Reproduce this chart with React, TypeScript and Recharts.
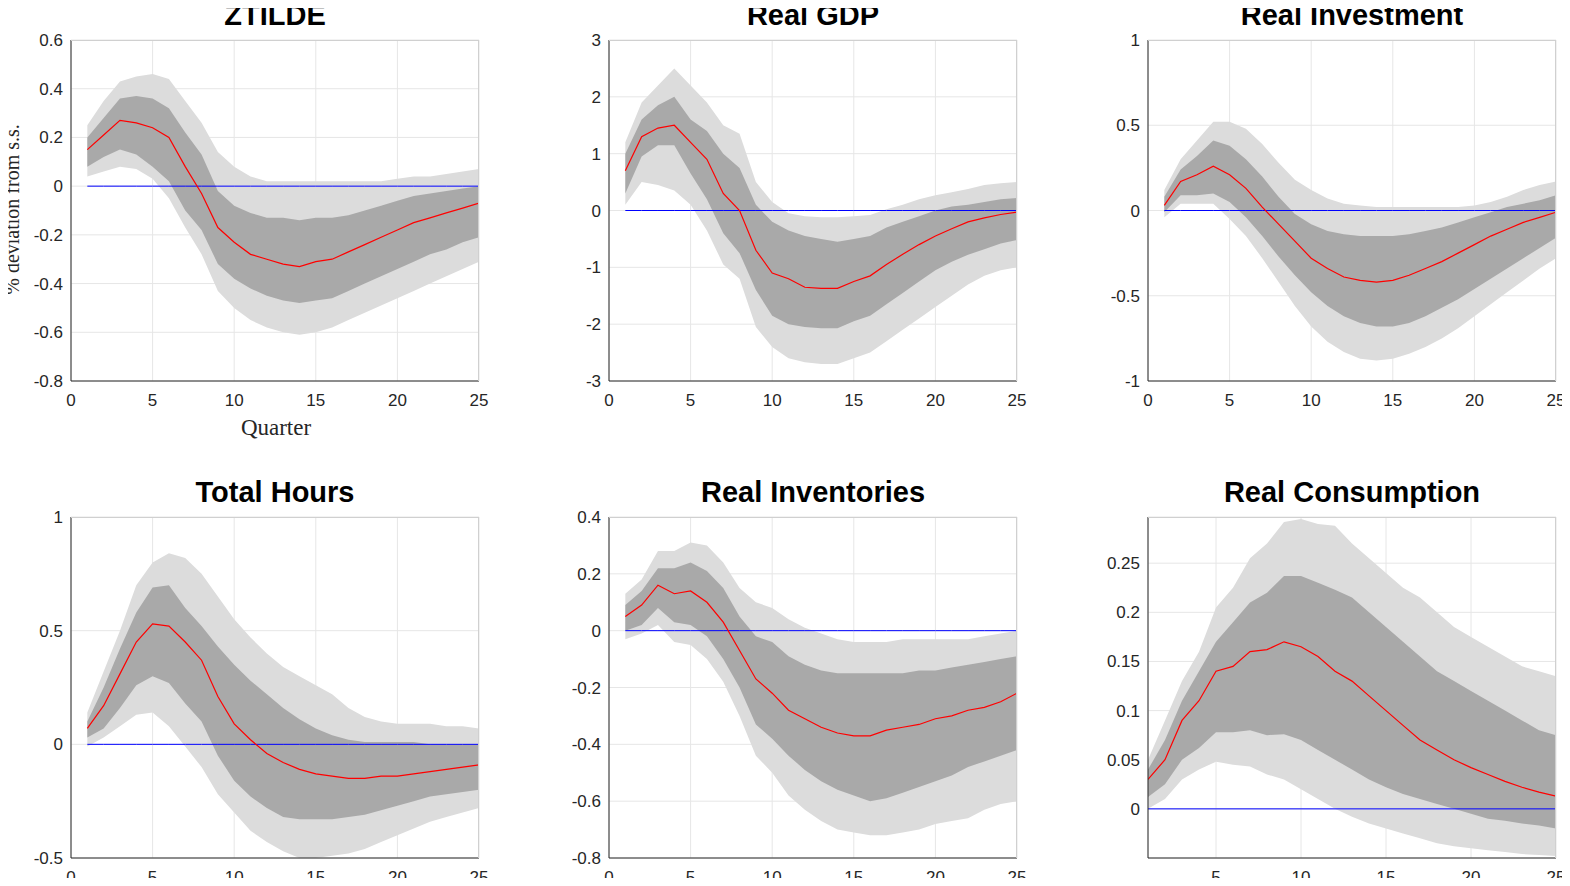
import { ComposedChart, Area, Line, XAxis, YAxis, CartesianGrid } from 'recharts';

const quarters = Array.from({ length: 25 }, (_, i) => i + 1);

const titles = ['ZTILDE', 'Real GDP', 'Real Investment', 'Total Hours', 'Real Inventories', 'Real Consumption'];

// median, inner band (lo/hi), outer band (lo/hi)
const ztMed = [0.15,0.21,0.27,0.26,0.24,0.2,0.08,-0.03,-0.17,-0.23,-0.28,-0.3,-0.32,-0.33,-0.31,-0.3,-0.27,-0.24,-0.21,-0.18,-0.15,-0.13,-0.11,-0.09,-0.07];
const ztInHi = [0.2,0.28,0.36,0.37,0.36,0.32,0.22,0.13,-0.02,-0.08,-0.11,-0.13,-0.13,-0.14,-0.13,-0.13,-0.12,-0.1,-0.08,-0.06,-0.04,-0.03,-0.02,-0.01,0.0];
const ztInLo = [0.08,0.12,0.15,0.13,0.08,0.02,-0.1,-0.18,-0.32,-0.38,-0.42,-0.45,-0.47,-0.48,-0.47,-0.46,-0.43,-0.4,-0.37,-0.34,-0.31,-0.28,-0.26,-0.23,-0.21];
const ztOutHi = [0.25,0.35,0.43,0.45,0.46,0.44,0.35,0.26,0.14,0.08,0.04,0.02,0.02,0.02,0.02,0.02,0.02,0.02,0.02,0.03,0.04,0.04,0.05,0.06,0.07];
const ztOutLo = [0.04,0.06,0.08,0.07,0.03,-0.05,-0.17,-0.28,-0.43,-0.5,-0.55,-0.58,-0.6,-0.61,-0.6,-0.58,-0.55,-0.52,-0.49,-0.46,-0.43,-0.4,-0.37,-0.34,-0.31];

const gdpMed = [0.7,1.3,1.45,1.5,1.2,0.9,0.3,0,-0.7,-1.1,-1.2,-1.35,-1.37,-1.37,-1.25,-1.15,-0.95,-0.77,-0.6,-0.45,-0.32,-0.2,-0.13,-0.07,-0.03];
const gdpInHi = [1.0,1.6,1.85,2.0,1.6,1.4,1.0,0.75,0.1,-0.2,-0.35,-0.45,-0.5,-0.55,-0.5,-0.45,-0.3,-0.2,-0.1,0.0,0.07,0.1,0.15,0.2,0.22];
const gdpInLo = [0.3,0.95,1.15,1.15,0.65,0.2,-0.4,-0.75,-1.4,-1.85,-2.0,-2.05,-2.07,-2.07,-1.95,-1.85,-1.65,-1.45,-1.25,-1.05,-0.9,-0.78,-0.68,-0.58,-0.52];
const gdpOutHi = [1.2,1.9,2.2,2.5,2.2,1.9,1.5,1.35,0.5,0.15,-0.05,-0.1,-0.12,-0.12,-0.1,-0.08,0.02,0.1,0.2,0.27,0.32,0.38,0.45,0.48,0.5];
const gdpOutLo = [0.1,0.5,0.45,0.35,0.1,-0.35,-0.95,-1.2,-2.05,-2.4,-2.6,-2.67,-2.7,-2.7,-2.6,-2.5,-2.3,-2.1,-1.9,-1.7,-1.5,-1.3,-1.15,-1.05,-1.0];

const invMed = [0.03,0.17,0.21,0.26,0.21,0.13,0.02,-0.08,-0.18,-0.28,-0.34,-0.39,-0.41,-0.42,-0.41,-0.38,-0.34,-0.3,-0.25,-0.2,-0.15,-0.11,-0.07,-0.04,-0.01];
const invInHi = [0.08,0.24,0.32,0.41,0.38,0.3,0.2,0.08,-0.02,-0.08,-0.12,-0.14,-0.15,-0.15,-0.15,-0.14,-0.12,-0.1,-0.07,-0.04,-0.01,0.02,0.04,0.06,0.09];
const invInLo = [-0.01,0.09,0.09,0.1,0.05,-0.04,-0.15,-0.27,-0.38,-0.48,-0.56,-0.62,-0.66,-0.68,-0.68,-0.66,-0.62,-0.57,-0.52,-0.46,-0.4,-0.34,-0.28,-0.22,-0.16];
const invOutHi = [0.12,0.3,0.41,0.52,0.52,0.48,0.39,0.28,0.18,0.12,0.07,0.04,0.03,0.02,0.02,0.02,0.02,0.02,0.02,0.03,0.05,0.08,0.12,0.15,0.17];
const invOutLo = [-0.04,0.04,0.04,0.04,-0.05,-0.15,-0.28,-0.42,-0.56,-0.68,-0.77,-0.83,-0.87,-0.88,-0.87,-0.84,-0.8,-0.75,-0.69,-0.62,-0.55,-0.48,-0.41,-0.34,-0.28];

const hrsMed = [0.07,0.17,0.31,0.45,0.53,0.52,0.45,0.37,0.21,0.09,0.02,-0.04,-0.08,-0.11,-0.13,-0.14,-0.15,-0.15,-0.14,-0.14,-0.13,-0.12,-0.11,-0.1,-0.09];
const hrsInHi = [0.1,0.25,0.42,0.58,0.69,0.7,0.6,0.52,0.43,0.35,0.28,0.22,0.16,0.11,0.07,0.04,0.02,0.01,0.01,0.01,0.01,0.0,0.0,0.0,0.0];
const hrsInLo = [0.03,0.07,0.16,0.26,0.3,0.27,0.18,0.1,-0.05,-0.16,-0.23,-0.28,-0.32,-0.33,-0.33,-0.33,-0.32,-0.31,-0.29,-0.27,-0.25,-0.23,-0.22,-0.21,-0.2];
const hrsOutHi = [0.14,0.32,0.5,0.7,0.8,0.84,0.82,0.75,0.65,0.55,0.47,0.4,0.34,0.3,0.26,0.22,0.16,0.12,0.1,0.09,0.09,0.09,0.08,0.08,0.07];
const hrsOutLo = [-0.01,0.03,0.08,0.13,0.14,0.08,-0.01,-0.1,-0.22,-0.3,-0.38,-0.43,-0.47,-0.5,-0.5,-0.49,-0.48,-0.46,-0.43,-0.4,-0.37,-0.34,-0.32,-0.3,-0.28];

const stkMed = [0.05,0.09,0.16,0.13,0.14,0.1,0.03,-0.07,-0.17,-0.22,-0.28,-0.31,-0.34,-0.36,-0.37,-0.37,-0.35,-0.34,-0.33,-0.31,-0.3,-0.28,-0.27,-0.25,-0.22];
const stkInHi = [0.09,0.14,0.22,0.22,0.24,0.21,0.15,0.05,-0.02,-0.04,-0.09,-0.12,-0.14,-0.15,-0.15,-0.15,-0.15,-0.15,-0.14,-0.14,-0.13,-0.12,-0.11,-0.1,-0.09];
const stkInLo = [0.0,0.02,0.08,0.03,0.02,-0.02,-0.1,-0.2,-0.33,-0.38,-0.44,-0.49,-0.53,-0.56,-0.58,-0.6,-0.59,-0.57,-0.55,-0.53,-0.51,-0.48,-0.46,-0.44,-0.42];
const stkOutHi = [0.13,0.18,0.28,0.28,0.31,0.3,0.24,0.15,0.1,0.08,0.04,0.01,-0.01,-0.03,-0.04,-0.04,-0.04,-0.03,-0.03,-0.03,-0.03,-0.03,-0.02,-0.01,0.0];
const stkOutLo = [-0.03,-0.01,0.02,-0.04,-0.05,-0.1,-0.18,-0.3,-0.44,-0.5,-0.58,-0.63,-0.67,-0.7,-0.71,-0.72,-0.72,-0.71,-0.7,-0.68,-0.67,-0.66,-0.63,-0.61,-0.6];

const conMed = [0.03,0.05,0.09,0.11,0.14,0.145,0.16,0.162,0.17,0.165,0.155,0.14,0.13,0.115,0.1,0.085,0.07,0.06,0.05,0.042,0.035,0.028,0.022,0.017,0.013];
const conInHi = [0.04,0.07,0.11,0.14,0.17,0.19,0.21,0.22,0.237,0.237,0.23,0.223,0.215,0.2,0.185,0.17,0.155,0.14,0.13,0.12,0.11,0.1,0.09,0.08,0.075];
const conInLo = [0.012,0.025,0.05,0.062,0.078,0.078,0.08,0.075,0.076,0.07,0.06,0.05,0.04,0.03,0.022,0.015,0.01,0.005,0.0,-0.005,-0.01,-0.012,-0.015,-0.017,-0.02];
const conOutHi = [0.05,0.09,0.13,0.16,0.205,0.225,0.255,0.27,0.292,0.295,0.29,0.288,0.27,0.255,0.24,0.225,0.215,0.2,0.185,0.175,0.165,0.155,0.145,0.14,0.135];
const conOutLo = [0.0,0.01,0.03,0.04,0.048,0.045,0.043,0.035,0.03,0.02,0.01,0.0,-0.008,-0.015,-0.02,-0.025,-0.03,-0.035,-0.038,-0.04,-0.042,-0.044,-0.046,-0.047,-0.048];

const yTicks = [
  [-0.8, -0.6, -0.4, -0.2, 0, 0.2, 0.4, 0.6],
  [-3, -2, -1, 0, 1, 2, 3],
  [-1, -0.5, 0, 0.5, 1],
  [-0.5, 0, 0.5, 1],
  [-0.8, -0.6, -0.4, -0.2, 0, 0.2, 0.4],
  [0, 0.05, 0.1, 0.15, 0.2, 0.25],
];
const yDomains = [[-0.8, 0.6], [-3, 3], [-1, 1], [-0.5, 1], [-0.8, 0.4], [-0.05, 0.297]];
const xTicksFull = [0, 5, 10, 15, 20, 25];
const xTicksCon = [5, 10, 15, 20, 25];

const series = [
  [ztMed, ztInLo, ztInHi, ztOutLo, ztOutHi],
  [gdpMed, gdpInLo, gdpInHi, gdpOutLo, gdpOutHi],
  [invMed, invInLo, invInHi, invOutLo, invOutHi],
  [hrsMed, hrsInLo, hrsInHi, hrsOutLo, hrsOutHi],
  [stkMed, stkInLo, stkInHi, stkOutLo, stkOutHi],
  [conMed, conInLo, conInHi, conOutLo, conOutHi],
];

const PLOT_W = 408;
const PLOT_H = 341;
const YAXIS_W = 70;
const PAD_TOP = 14;
const lefts = [71, 609, 1148];
const tops = [40, 517];
const font = 'Arial, "Liberation Sans", sans-serif';
const tickStyle = { fill: '#262626', fontSize: 17, fontFamily: font };

function fmt(v: number) {
  return String(v);
}

function Panel({ idx }: { idx: number }) {
  const [med, inLo, inHi, outLo, outHi] = series[idx];
  const data = quarters.map((q, i) => ({
    q,
    outer: [outLo[i], outHi[i]],
    inner: [inLo[i], inHi[i]],
    med: med[i],
    zero: 0,
  }));
  const left = lefts[idx % 3];
  const top = tops[Math.floor(idx / 3)];
  const isCon = idx === 5;
  return (
    <>
      <div style={{ position: 'absolute', left: left, top: top - 41, width: PLOT_W, textAlign: 'center', fontFamily: font, fontWeight: 'bold', fontSize: 29, lineHeight: '32px', color: '#000' }}>
        {titles[idx]}
      </div>
      <div style={{ position: 'absolute', left: left - YAXIS_W, top: top - PAD_TOP }}>
        <ComposedChart width={PLOT_W + YAXIS_W + 20} height={PLOT_H + 36 + PAD_TOP} data={data} margin={{ top: PAD_TOP, right: 20, bottom: 0, left: 0 }}>
          <CartesianGrid stroke="#e6e6e6" />
          <XAxis dataKey="q" type="number" domain={isCon ? [1, 25] : [0, 25]} ticks={isCon ? xTicksCon : xTicksFull}
            tick={{ ...tickStyle, dy: 5 }} tickLine={false} axisLine={{ stroke: '#262626' }} height={36} allowDataOverflow />
          <YAxis type="number" domain={yDomains[idx]} ticks={yTicks[idx]} tickFormatter={fmt}
            tick={tickStyle} tickLine={false} axisLine={{ stroke: '#262626' }} width={YAXIS_W} allowDataOverflow />
          <Area dataKey="outer" stroke="none" fill="#dcdcdc" fillOpacity={1} isAnimationActive={false} />
          <Area dataKey="inner" stroke="none" fill="#a9a9a9" fillOpacity={1} isAnimationActive={false} />
          <Line dataKey="zero" stroke="#0000ff" strokeWidth={1} dot={false} isAnimationActive={false} />
          <Line dataKey="med" stroke="#ff0000" strokeWidth={1.2} dot={false} isAnimationActive={false} />
        </ComposedChart>
      </div>
      <div style={{ position: 'absolute', left, top, width: PLOT_W, height: PLOT_H, borderTop: '1px solid #d0d0d0', borderRight: '1px solid #d0d0d0', boxSizing: 'border-box', pointerEvents: 'none' }} />
    </>
  );
}

export default function App() {
  return (
    <div style={{ position: 'relative', width: 1570, height: 886, margin: -8, background: '#fff', overflow: 'hidden' }}>
      {[0, 1, 2, 3, 4, 5].map((i) => <Panel key={i} idx={i} />)}
      <div style={{ position: 'absolute', left: 276 - 60, top: 415, width: 120, textAlign: 'center', fontFamily: '"Liberation Serif", "DejaVu Serif", serif', fontSize: 23, color: '#262626' }}>
        Quarter
      </div>
      <div style={{ position: 'absolute', left: 12 - 150, top: 198, width: 300, textAlign: 'center', transform: 'rotate(-90deg)', fontFamily: '"Liberation Serif", "DejaVu Serif", serif', fontSize: 20, color: '#262626' }}>
        % deviation from s.s.
      </div>
    </div>
  );
}
